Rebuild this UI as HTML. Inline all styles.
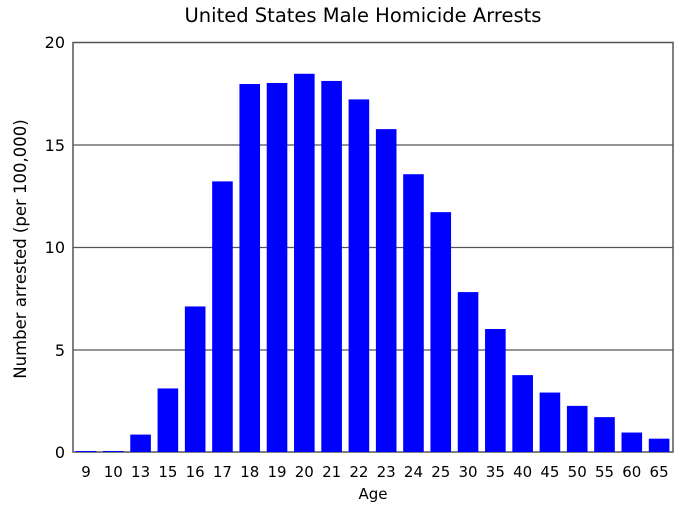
<!DOCTYPE html><html><head><style>body{margin:0;background:#fff}</style></head><body>
<svg width="683" height="512" xmlns="http://www.w3.org/2000/svg" font-family="DejaVu Sans, Liberation Sans, sans-serif">
<rect width="683" height="512" fill="#fff"/>
<text x="363" y="22" font-size="19.5" text-anchor="middle">United States Male Homicide Arrests</text>
<g stroke="#555" stroke-width="1.2">
<line x1="73" y1="145" x2="673" y2="145"/><line x1="73" y1="247.5" x2="673" y2="247.5"/><line x1="73" y1="350" x2="673" y2="350"/>
<rect x="73" y="42.5" width="600" height="409.5" fill="none" stroke-width="1.5"/>
</g>
<g fill="#0000ff" id="bars"></g>
<g font-size="16" text-anchor="end"><text x="65" y="48">20</text><text x="65" y="151">15</text><text x="65" y="253">10</text><text x="65" y="356">5</text><text x="65" y="458">0</text></g>
<g font-size="15" text-anchor="middle" id="lbl"></g>
<text x="373" y="499" font-size="15" text-anchor="middle">Age</text>
<text transform="translate(26,249) rotate(-90)" font-size="16.5" text-anchor="middle">Number arrested (per 100,000)</text>
<script>
var v=[0.05,0.05,0.85,3.1,7.1,13.2,17.95,18,18.45,18.1,17.2,15.75,13.55,11.7,7.8,6.0,3.75,2.9,2.25,1.7,0.95,0.65];
var a=[9,10,13,15,16,17,18,19,20,21,22,23,24,25,30,35,40,45,50,55,60,65];
var b=document.getElementById('bars'),l=document.getElementById('lbl'),ns='http://www.w3.org/2000/svg';
v.forEach(function(d,i){var c=86+i*27.29;var r=document.createElementNS(ns,'rect');r.setAttribute('x',c-10.3);r.setAttribute('width',20.6);r.setAttribute('y',452-d*20.5);r.setAttribute('height',d*20.5);b.appendChild(r);
var t=document.createElementNS(ns,'text');t.setAttribute('x',c);t.setAttribute('y',477);t.textContent=a[i];l.appendChild(t);});
</script>
</svg></body></html>
